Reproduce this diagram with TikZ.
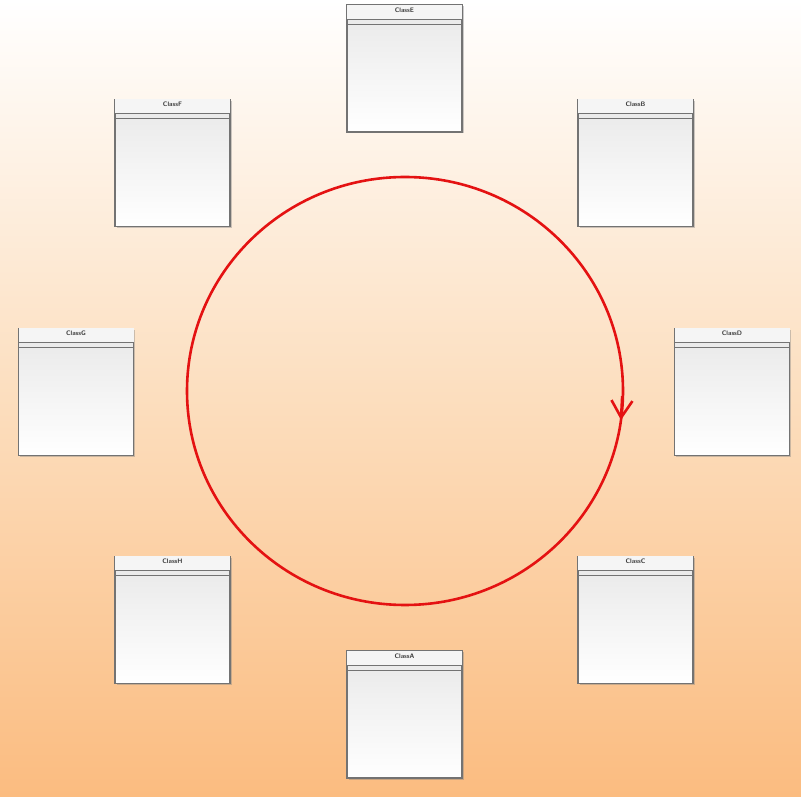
\documentclass[tikz,border=0pt]{standalone}
\usetikzlibrary{calc,shadows,arrows.meta}
\definecolor{bgorange}{RGB}{251,188,128}
\definecolor{loopred}{RGB}{228,18,18}
\definecolor{boxedge}{RGB}{115,115,115}
\definecolor{titlegray}{RGB}{60,60,60}
\tikzset{
  classbox/.style={draw=boxedge, line width=1.4pt, minimum width=115pt, minimum height=127pt,
    inner sep=0pt, top color=gray!18, bottom color=white,
    drop shadow={shadow xshift=1.5pt, shadow yshift=-1.5pt, opacity=0.4}},
  classtitle/.style={font=\sffamily\bfseries\fontsize{6.5}{7.5}\selectfont, text=titlegray, inner sep=0pt, anchor=north},
  sepline/.style={draw=boxedge, line width=1pt},
  loop/.style={draw=loopred, line width=2.6pt}
}
\newcommand{\classnode}[3]{%
  \node[classbox] (#1) at (#2) {};
  \fill[gray!8] ($(#1.north west)+(0.7pt,-0.7pt)$) rectangle ($(#1.north east)+(-0.7pt,-15pt)$);
  \node[classtitle] (#1t) at ($(#1.north)+(0,-3pt)$) {#3};
  \draw[sepline] ($(#1.north west)+(0,-15pt)$) -- ($(#1.north east)+(0,-15pt)$);
  \draw[sepline] ($(#1.north west)+(0,-20pt)$) -- ($(#1.north east)+(0,-20pt)$);
}
\begin{document}
\begin{tikzpicture}[x=1pt,y=1pt]
\shade[top color=white, bottom color=bgorange, middle color={rgb,255:red,252;green,222;blue,190}] (0,0) rectangle (801,796);
\useasboundingbox (0,0) rectangle (801,796);
\classnode{E}{404.5,727.5}{ClassE}
\classnode{F}{172.5,633}{ClassF}
\classnode{B}{635.5,633}{ClassB}
\classnode{G}{76,404}{ClassG}
\classnode{D}{732,404}{ClassD}
\classnode{H}{172.5,176}{ClassH}
\classnode{C}{635.5,176}{ClassC}
\classnode{A}{404.5,81.5}{ClassA}
\coordinate (ctr) at (405,405);
\draw[loop] (ctr) ellipse [x radius=218, y radius=214];
\coordinate (tip) at ($(ctr)+(-7.8:218 and 214)$);
\draw[loop, -{Straight Barb[length=17pt,width=21pt]}] ($(tip)+(1.2,24)$) -- (tip);
\end{tikzpicture}
\end{document}
